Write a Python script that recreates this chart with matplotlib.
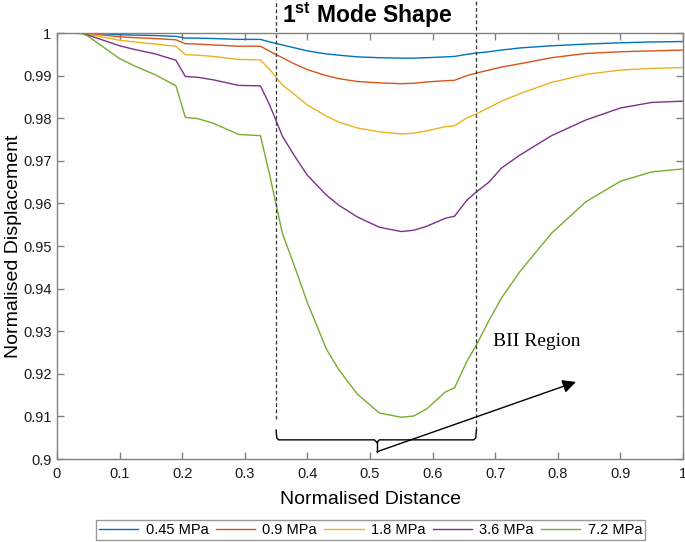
import numpy as np
import matplotlib
matplotlib.use('Agg')
import matplotlib.pyplot as plt
from matplotlib.ticker import FormatStrFormatter

plt.rcParams['font.family'] = ['Liberation Sans', 'DejaVu Sans']
plt.rcParams['mathtext.fontset'] = 'custom'
plt.rcParams['mathtext.bf'] = 'Liberation Sans:bold'
plt.rcParams['mathtext.rm'] = 'Liberation Sans'

# normalised distance samples
distance = [0, 0.04, 0.05, 0.1, 0.125, 0.157, 0.19, 0.205, 0.225, 0.25, 0.29, 0.325,
            0.34, 0.36, 0.38, 0.4, 0.43, 0.45, 0.48, 0.515, 0.55, 0.57, 0.59, 0.62,
            0.635, 0.655, 0.67, 0.69, 0.71, 0.74, 0.79, 0.845, 0.9, 0.95, 1.0]

disp_045 = [1.0, 1.0, 1.0, 0.9996, 0.9995, 0.9994, 0.9992, 0.9988, 0.9988, 0.9987, 0.9985, 0.9985,
            0.9979, 0.9972, 0.9965, 0.9958, 0.9951, 0.9948, 0.9944, 0.9942, 0.9941, 0.9941, 0.9942, 0.9944,
            0.9945, 0.9950, 0.9953, 0.9956, 0.9960, 0.9965, 0.9970, 0.9974, 0.9977, 0.9979, 0.9980]
disp_09 = [1.0, 1.0, 0.9999, 0.9991, 0.9989, 0.9987, 0.9984, 0.9975, 0.9974, 0.9972, 0.9969, 0.9969,
           0.9957, 0.9942, 0.9927, 0.9914, 0.9900, 0.9893, 0.9886, 0.9883, 0.9881, 0.9882, 0.9885, 0.9888,
           0.9889, 0.9900, 0.9906, 0.9913, 0.9920, 0.9928, 0.9942, 0.9952, 0.9956, 0.9958, 0.9960]
disp_18 = [1.0, 1.0, 0.9997, 0.9983, 0.9979, 0.9974, 0.9969, 0.9949, 0.9948, 0.9945, 0.9938, 0.9937,
           0.9914, 0.9878, 0.9855, 0.9831, 0.9805, 0.9791, 0.9777, 0.9768, 0.9763, 0.9765, 0.9770, 0.9780,
           0.9782, 0.9801, 0.9810, 0.9825, 0.9840, 0.9858, 0.9884, 0.9903, 0.9913, 0.9917, 0.9919]
disp_36 = [1.0, 0.9999, 0.9995, 0.9970, 0.9961, 0.9951, 0.9936, 0.9898, 0.9896, 0.9890, 0.9877, 0.9876,
           0.9830, 0.9758, 0.9710, 0.9666, 0.9620, 0.9596, 0.9568, 0.9544, 0.9534, 0.9537, 0.9546, 0.9565,
           0.9570, 0.9608, 0.9627, 0.9650, 0.9683, 0.9714, 0.9759, 0.9796, 0.9824, 0.9837, 0.9840]
disp_72 = [1.0, 0.9999, 0.9992, 0.9940, 0.9922, 0.9902, 0.9876, 0.9802, 0.9799, 0.9788, 0.9762, 0.9759,
           0.9665, 0.9530, 0.9450, 0.9367, 0.9259, 0.9210, 0.9152, 0.9108, 0.9098, 0.9101, 0.9117, 0.9157,
           0.9167, 0.9230, 0.9268, 0.9325, 0.9378, 0.9441, 0.9530, 0.9604, 0.9652, 0.9674, 0.9681]

labels = ['0.45 MPa', '0.9 MPa', '1.8 MPa', '3.6 MPa', '7.2 MPa']
colors = ['#0072BD', '#D95319', '#EDB120', '#7E2F8E', '#77AC30']

region_left = 0.35
region_right = 0.67
brace_mid = 0.511
brace_y = 0.9045
arrow_tip = (0.829, 0.9181)

fig = plt.figure(figsize=(6.85, 5.42), dpi=100)
ax = fig.add_axes([0.0832, 0.1531, 0.9139, 0.786])

for series, lab, col in zip([disp_045, disp_09, disp_18, disp_36, disp_72], labels, colors):
    ax.plot(distance, series, color=col, lw=1.0, label=lab)

ax.set_xlim(0, 1)
ax.set_ylim(0.9, 1)
ax.set_xticks(np.arange(0, 1.01, 0.1))
ax.set_yticks(np.arange(0.9, 1.001, 0.01))
ax.xaxis.set_major_formatter(FormatStrFormatter('%g'))
ax.yaxis.set_major_formatter(FormatStrFormatter('%g'))
ax.tick_params(direction='in', length=5, width=1, color='#808080', labelsize=10.5,
               top=True, right=True, labelcolor='#1a1a1a')
ax.tick_params(axis='x', pad=6)
ax.tick_params(axis='y', pad=4)
for sp in ax.spines.values():
    sp.set_color('#808080')
    sp.set_linewidth(1.0)

ax.set_xlabel('Normalised Distance', fontsize=14)
ax.set_ylabel('Normalised Displacement', fontsize=14)
ax.xaxis.set_label_coords(0.5, -0.074)
ax.yaxis.set_label_coords(-0.056, 0.5)

# region markers
top_y = 1.0078
ax.plot([region_left, region_left], [0.9094, top_y], ls=(0, (3, 2)), color='#333333', lw=0.9, clip_on=False)
ax.plot([region_right, region_right], [0.9068, top_y], ls=(0, (3, 2)), color='#333333', lw=0.9, clip_on=False)

# curly brace
ax.plot([region_left, region_left + 0.001, region_left + 0.004, brace_mid - 0.004, brace_mid - 0.002, brace_mid],
        [0.9068, 0.9050, brace_y, brace_y, brace_y - 0.0003, brace_y - 0.0006], color='k', lw=1.0)
ax.plot([brace_mid, brace_mid + 0.002, brace_mid + 0.004, region_right - 0.004, region_right - 0.001, region_right],
        [brace_y - 0.0006, brace_y - 0.0003, brace_y, brace_y, 0.9050, 0.9068], color='k', lw=1.0)
ax.plot([brace_mid, brace_mid], [brace_y - 0.0006, 0.9017], color='k', lw=1.0)

ax.annotate('', xy=arrow_tip, xytext=(brace_mid, 0.9017),
            arrowprops=dict(arrowstyle='-|>', color='k', lw=1.0, mutation_scale=20, shrinkA=0, shrinkB=0))
ax.text(0.6965, 0.9265, 'BII Region', family='Liberation Serif', fontsize=14, va='baseline', ha='left')

ax.text(0.495, 1.0235, r'1$^{\mathbf{st}}$ Mode Shape', transform=ax.transAxes,
        ha='center', va='baseline', fontsize=16.5, fontweight='bold')

leg = fig.legend(loc='center', bbox_to_anchor=(0.541, 0.022), ncol=5, fontsize=10.5,
                 frameon=True, fancybox=False, edgecolor='#808080', handlelength=2.7,
                 handletextpad=0.5, columnspacing=0.5, borderpad=0.2)
leg.get_frame().set_linewidth(1.0)

fig.savefig('out.png', dpi=100)
